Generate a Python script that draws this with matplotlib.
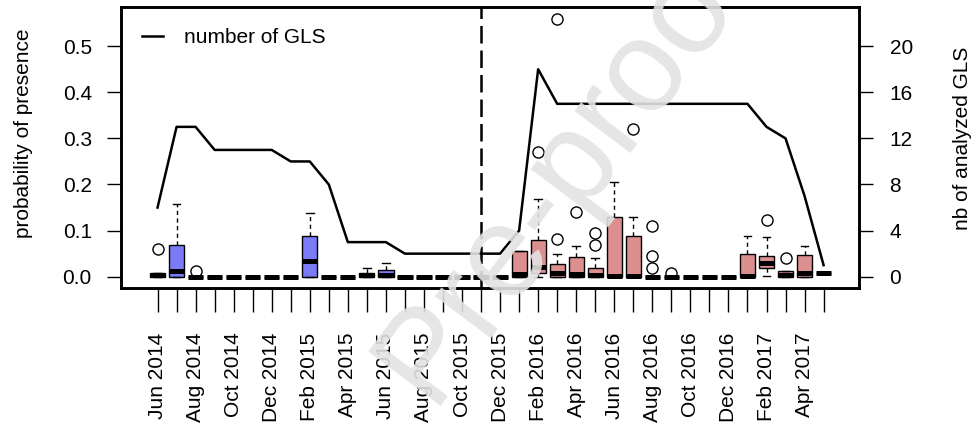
import numpy as np
import pandas as pd
import matplotlib
matplotlib.use('Agg')
import matplotlib.pyplot as plt

plt.rcParams['font.family'] = ['Liberation Sans', 'DejaVu Sans']

# monthly boxplot summaries (probability of presence), Jun 2014 - May 2017
months = pd.date_range('2014-06-01', periods=36, freq='MS').strftime('%b %Y').tolist()

q1 = [0, 0, 0, 0, 0, 0, 0, 0, 0, 0, 0, 0, 0, 0, 0, 0, 0, 0,
      0, 0, 0.008, 0, 0, 0, 0, 0, 0, 0, 0, 0, 0, 0, 0.019, 0, 0, 0.008]
med = [0.003, 0.012, 0, 0, 0, 0, 0, 0, 0.035, 0, 0, 0.003, 0.004, 0, 0, 0, 0, 0,
       0, 0.005, 0.02, 0.008, 0.006, 0.004, 0.002, 0.002, 0, 0, 0, 0, 0, 0.002, 0.03, 0.003, 0.007, 0.008]
q3 = [0.009, 0.069, 0, 0, 0, 0, 0, 0, 0.089, 0, 0, 0.008, 0.015, 0, 0, 0, 0, 0,
      0, 0.055, 0.079, 0.028, 0.043, 0.019, 0.13, 0.089, 0, 0, 0, 0, 0, 0.05, 0.045, 0.012, 0.048, 0.008]
whis_lo = [0, 0, 0, 0, 0, 0, 0, 0, 0, 0, 0, 0, 0, 0, 0, 0, 0, 0,
           0, 0, 0, 0, 0, 0, 0, 0, 0, 0, 0, 0, 0, 0, 0.002, 0, 0, 0.008]
whis_hi = [0.009, 0.158, 0, 0, 0, 0, 0, 0, 0.138, 0, 0, 0.019, 0.03, 0, 0, 0, 0, 0,
           0, 0.055, 0.168, 0.05, 0.066, 0.04, 0.206, 0.13, 0, 0, 0, 0, 0, 0.089, 0.086, 0.012, 0.066, 0.008]
outliers = [[0.06], [], [0.012], [], [], [], [], [], [], [], [], [], [], [], [], [], [], [],
            [], [], [0.27], [0.082, 0.56], [0.141], [0.069, 0.095], [], [0.32], [0.019, 0.044, 0.11], [0.008],
            [], [], [], [], [0.122], [0.04], [], []]

# number of analysed GLS per month
n_gls = [6, 13, 13, 11, 11, 11, 11, 10, 10, 8, 3, 3, 3, 2, 2, 2, 2, 2,
         2, 4, 18, 15, 15, 15, 15, 15, 15, 15, 15, 15, 15, 15, 13, 12, 7, 1]

split_month = 17  # Nov 2015

fig = plt.figure(figsize=(9.77, 4.28), dpi=100)
ax = fig.add_axes([121 / 977, 1 - 288 / 428, (859 - 121) / 977, (288 - 7) / 428])

stats = []
for i in range(len(months)):
    stats.append(dict(med=med[i], q1=q1[i], q3=q3[i], whislo=whis_lo[i],
                      whishi=whis_hi[i], fliers=outliers[i]))

pos = np.arange(len(months))
bp = ax.bxp(stats, positions=pos, widths=0.8, patch_artist=True, capwidths=0.4,
            boxprops=dict(edgecolor='black', linewidth=1.0),
            medianprops=dict(color='black', linewidth=3.6, solid_capstyle='butt'),
            whiskerprops=dict(color='black', linewidth=1.0, linestyle=(0, (3, 2.5))),
            capprops=dict(color='black', linewidth=1.0),
            flierprops=dict(marker='o', markerfacecolor='none', markeredgecolor='black',
                            markersize=8, markeredgewidth=1.0))
for i, patch in enumerate(bp['boxes']):
    patch.set_facecolor('#7b7bf8' if i < split_month else '#dc8f8f')

ax.axvline(split_month, color='black', linewidth=1.8, linestyle=(0, (7, 2.8)), zorder=1)

ylo, yhi = -0.0245, 0.585
ax.set_ylim(ylo, yhi)
ax.set_xlim(-1.92, 36.86)
ax.set_yticks([0, 0.1, 0.2, 0.3, 0.4, 0.5])
ax.set_yticklabels(['0.0', '0.1', '0.2', '0.3', '0.4', '0.5'])
ax.set_xticks(pos)
ax.set_xticklabels([m if i % 2 == 0 else '' for i, m in enumerate(months)], rotation=90)
ax.tick_params(axis='y', labelsize=15, length=10, width=1, pad=11)
ax.tick_params(axis='x', labelsize=15, length=17, width=1, pad=15)
for s in ax.spines.values():
    s.set_linewidth(1.9)

ax2 = ax.twinx()
ax2.plot(pos, n_gls, color='black', linewidth=1.8, label='number of GLS')
ax2.set_ylim(ylo * 40, yhi * 40)
ax2.set_yticks([0, 4, 8, 12, 16, 20])
ax2.tick_params(axis='y', labelsize=15, length=10, width=1, pad=12)
for s in ax2.spines.values():
    s.set_linewidth(1.9)

ax2.legend(loc='center left', bbox_to_anchor=(0.0285, 0.89), frameon=False, fontsize=15,
           borderaxespad=0, borderpad=0, handlelength=1.0, handletextpad=1.0)

fig.text(24 / 977, 1 - 133 / 428, 'probability of presence', rotation=90,
         ha='center', va='center', fontsize=15)
fig.text(962 / 977, 1 - 138 / 428, 'nb of analyzed GLS', rotation=90,
         ha='center', va='center', fontsize=15)

# journal watermark
fig.text(566 / 977, 1 - 168 / 428, 'Pre-proof', rotation=53, ha='center', va='center',
         fontsize=94, color='#e3e3e3', alpha=0.9, rotation_mode='anchor')

fig.savefig('out.png', dpi=100)
